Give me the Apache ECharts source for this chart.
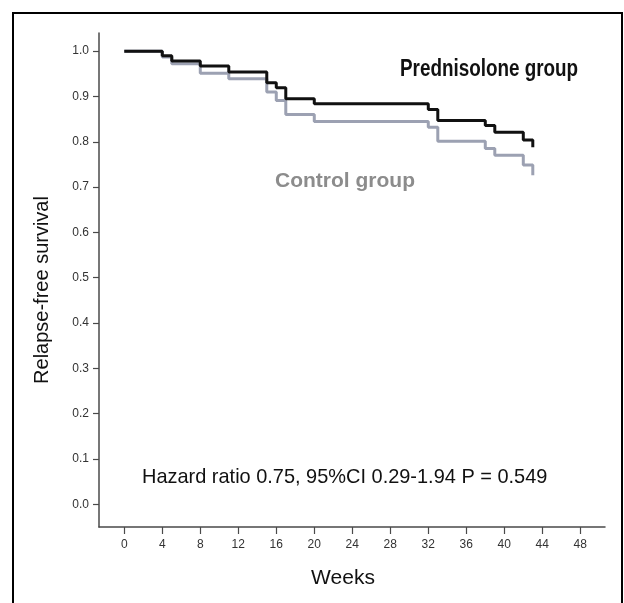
<!DOCTYPE html>
<html>
<head>
<meta charset="utf-8">
<script src="https://cdn.jsdelivr.net/npm/echarts@6/dist/echarts.min.js"></script>
<style>
html,body{margin:0;padding:0;background:#fff;}
#c{width:624px;height:603px;}
</style>
</head>
<body>
<div id="c"></div>
<script>
// Data (Kaplan-Meier step points)
var predTimes = [0, 4, 5, 8, 11, 15, 16, 17, 20, 32, 33, 38, 39, 42, 43];
var predSurv  = [1.0, 0.990, 0.978, 0.967, 0.954, 0.930, 0.919, 0.895, 0.884, 0.871, 0.847, 0.836, 0.821, 0.804, 0.788];
var ctrlTimes = [0, 4, 5, 8, 11, 15, 16, 17, 20, 32, 33, 38, 39, 42, 43];
var ctrlSurv  = [1.0, 0.987, 0.972, 0.951, 0.939, 0.910, 0.891, 0.860, 0.845, 0.832, 0.801, 0.785, 0.770, 0.749, 0.726];
var xTicks = [0, 4, 8, 12, 16, 20, 24, 28, 32, 36, 40, 44, 48];
var yTicks = [0, 0.1, 0.2, 0.3, 0.4, 0.5, 0.6, 0.7, 0.8, 0.9, 1.0];
var predLabel = 'Prednisolone group';
var ctrlLabel = 'Control group';
var hazardText = 'Hazard ratio 0.75, 95%CI 0.29-1.94 P = 0.549';

function zip(a, b) { return a.map(function (v, i) { return [v, b[i]]; }); }

var FONT = '"Liberation Sans", Arial, sans-serif';
var chart = echarts.init(document.getElementById('c'), null, {renderer: 'canvas'});
chart.setOption({
  animation: false,
  backgroundColor: '#fff',
  grid: {left: 99, right: 19, top: 33, bottom: 76},
  xAxis: {
    type: 'value', min: -2.66, max: 50.6,
    name: 'Weeks', nameLocation: 'middle', nameGap: 41,
    nameTextStyle: {fontFamily: FONT, fontSize: 21, color: '#111', padding: [0, 18, 0, 0]},
    axisLine: {onZero: false, lineStyle: {color: '#4a4a4a', width: 1.5}},
    axisTick: {customValues: xTicks, length: 7, lineStyle: {color: '#4a4a4a', width: 1.2}},
    axisLabel: {customValues: xTicks, margin: 12, fontFamily: FONT, fontSize: 12, color: '#333'},
    splitLine: {show: false}
  },
  yAxis: {
    type: 'value', min: -0.05, max: 1.04,
    name: 'Relapse-free survival', nameLocation: 'middle', nameGap: 47,
    nameTextStyle: {fontFamily: FONT, fontSize: 20, color: '#111', padding: [0, 20, 0, 0]},
    axisLine: {onZero: false, lineStyle: {color: '#4a4a4a', width: 1.5}},
    axisTick: {customValues: yTicks, length: 6, lineStyle: {color: '#4a4a4a', width: 1.2}},
    axisLabel: {customValues: yTicks, margin: 10, fontFamily: FONT, fontSize: 12, color: '#333',
      formatter: function (v) { return v.toFixed(1); }},
    splitLine: {show: false}
  },
  series: [
    {
      name: ctrlLabel, type: 'line', step: 'end', showSymbol: false,
      data: zip(ctrlTimes, ctrlSurv),
      lineStyle: {color: '#9ca1b2', width: 3}
    },
    {
      name: predLabel, type: 'line', step: 'end', showSymbol: false,
      data: zip(predTimes, predSurv),
      lineStyle: {color: '#111', width: 3}
    }
  ],
  graphic: [
    {type: 'rect', shape: {x: 13, y: 13, width: 609, height: 620}, style: {fill: null, stroke: '#000', lineWidth: 2}, silent: true},
    {type: 'text', x: 400, y: 58, scaleX: 0.82, style: {text: predLabel, font: 'bold 23px ' + FONT, fill: '#111', verticalAlign: 'top'}},
    {type: 'text', x: 275, y: 171, style: {text: ctrlLabel, font: 'bold 21px ' + FONT, fill: '#8c8c8c', verticalAlign: 'top'}},
    {type: 'text', x: 142, y: 467, scaleX: 0.95, style: {text: hazardText, font: '21px ' + FONT, fill: '#111', verticalAlign: 'top'}}
  ]
});
</script>
</body>
</html>
